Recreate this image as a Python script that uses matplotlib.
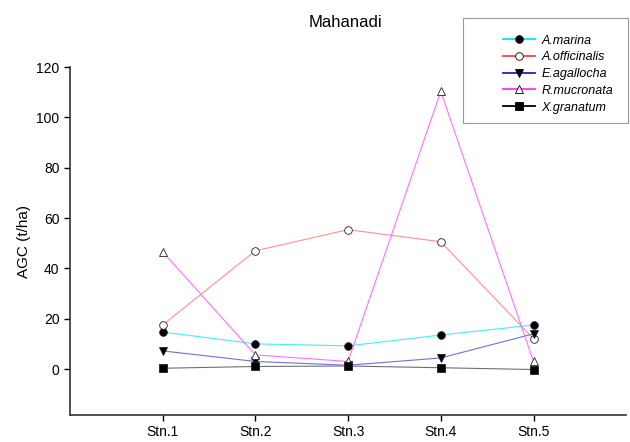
import matplotlib

matplotlib.use("Agg")

import matplotlib.pyplot as plt
from matplotlib.lines import Line2D
from matplotlib.patches import Rectangle

plt.rcParams["font.family"] = ["Liberation Sans", "DejaVu Sans"]

stations = ["Stn.1", "Stn.2", "Stn.3", "Stn.4", "Stn.5"]

a_marina = [14.7, 10.0, 9.2, 13.5, 17.5]
a_officinalis = [17.5, 47.0, 55.4, 50.6, 12.0]
e_agallocha = [7.2, 3.0, 1.5, 4.4, 14.0]
r_mucronata = [46.6, 5.6, 3.0, 110.4, 3.0]
x_granatum = [0.3, 1.0, 1.2, 0.5, -0.2]

# (label, values, legend colour, thin plot-line colour, marker, face)
series = [
    ("A.marina", a_marina, "#00e8e8", "#40f0f0", "o", "black"),
    ("A.officinalis", a_officinalis, "#ff4040", "#ff9090", "o", "white"),
    ("E.agallocha", e_agallocha, "#2020c0", "#7070dd", "v", "black"),
    ("R.mucronata", r_mucronata, "#ff30ff", "#ff70ff", "^", "white"),
    ("X.granatum", x_granatum, "#000000", "#707070", "s", "black"),
]

fig = plt.figure(figsize=(6.3, 4.42), dpi=100)
ax = fig.add_axes([0.111, 0.061, 0.883, 0.787])

x = list(range(1, len(stations) + 1))
handles = []
for name, vals, color, thin, marker, face in series:
    ax.plot(x, vals, color=thin, lw=0.8, marker=marker, markersize=5.5,
            markerfacecolor=face, markeredgecolor="#202020", markeredgewidth=0.6)
    handles.append(Line2D([], [], color=color, lw=1.3, marker=marker, markersize=5.5,
                          markerfacecolor=face, markeredgecolor="black",
                          markeredgewidth=0.6, label=name))

ax.set_xlim(0, 6)
ax.set_ylim(-18.3, 120)
ax.set_xticks(x)
ax.set_xticklabels(stations, fontsize=10)
ax.set_yticks(range(0, 121, 20))
ax.tick_params(axis="y", labelsize=10, direction="out", length=4, width=1)
ax.tick_params(axis="x", direction="out", length=4, width=1)
ax.spines["top"].set_visible(False)
ax.spines["right"].set_visible(False)
for side in ("left", "bottom"):
    ax.spines[side].set_linewidth(1.2)
    ax.spines[side].set_color("#333333")
ax.set_ylabel("AGC (t/ha)", fontsize=11)

fig.text(0.548, 0.95, "Mahanadi", ha="center", va="center", fontsize=12)

# legend box drawn separately so it can be wider than the entries
fig.patches.append(Rectangle((463 / 630, 1 - 123 / 442), 165 / 630, 105 / 442,
                             transform=fig.transFigure, fill=False,
                             edgecolor="#999999", lw=0.8))
fig.legend(handles=handles, loc="center", bbox_to_anchor=(558 / 630, 1 - 74 / 442),
           bbox_transform=fig.transFigure, prop={"style": "italic", "size": 9},
           frameon=False, handlelength=2.6, labelspacing=0.38, handletextpad=0.5)

fig.savefig("out.png", dpi=100)
